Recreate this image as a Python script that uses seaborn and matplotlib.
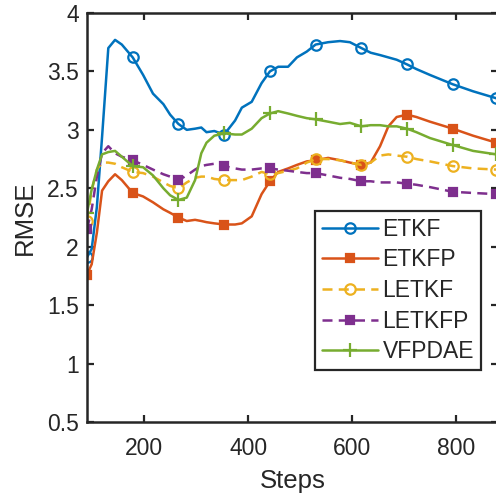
import matplotlib
matplotlib.use("Agg")
import matplotlib.pyplot as plt
import seaborn as sns

# assimilation steps (x) and RMSE of each method
steps = [90, 99, 109, 119, 131, 144, 157, 178, 198, 217, 237, 250, 266, 282,
         298, 310, 320, 335, 354, 375, 388, 407, 426, 442, 458, 477, 494, 513,
         530, 554, 577, 596, 618, 636, 654, 670, 686, 706, 724, 750, 772, 794,
         833, 878]

etkf = [1.91, 1.98, 2.34, 2.94, 3.70, 3.77, 3.73, 3.62, 3.47, 3.31, 3.22, 3.13,
        3.05, 3.00, 3.01, 3.02, 2.98, 2.99, 2.96, 3.08, 3.19, 3.24, 3.40, 3.50,
        3.54, 3.54, 3.62, 3.67, 3.73, 3.75, 3.76, 3.75, 3.70, 3.66, 3.64, 3.62,
        3.60, 3.56, 3.52, 3.47, 3.43, 3.39, 3.33, 3.27]

etkfp = [1.76, 1.85, 2.12, 2.48, 2.56, 2.62, 2.57, 2.46, 2.43, 2.38, 2.32, 2.29,
         2.25, 2.22, 2.23, 2.22, 2.21, 2.20, 2.19, 2.19, 2.20, 2.26, 2.45, 2.56,
         2.64, 2.67, 2.70, 2.73, 2.74, 2.76, 2.74, 2.72, 2.70, 2.72, 2.86, 3.03,
         3.11, 3.13, 3.11, 3.07, 3.04, 3.01, 2.95, 2.89]

letkf = [2.22, 2.48, 2.66, 2.72, 2.72, 2.71, 2.68, 2.64, 2.63, 2.60, 2.55, 2.52,
         2.50, 2.55, 2.59, 2.60, 2.60, 2.58, 2.57, 2.57, 2.57, 2.60, 2.64, 2.62,
         2.63, 2.65, 2.67, 2.72, 2.75, 2.75, 2.74, 2.72, 2.70, 2.72, 2.78, 2.79,
         2.78, 2.77, 2.75, 2.73, 2.71, 2.69, 2.67, 2.66]

letkfp = [2.15, 2.32, 2.60, 2.80, 2.86, 2.80, 2.77, 2.74, 2.70, 2.66, 2.62, 2.60,
          2.57, 2.61, 2.66, 2.69, 2.70, 2.71, 2.69, 2.67, 2.66, 2.66, 2.67, 2.67,
          2.66, 2.65, 2.64, 2.63, 2.63, 2.61, 2.59, 2.58, 2.56, 2.56, 2.55, 2.55,
          2.55, 2.54, 2.53, 2.51, 2.49, 2.47, 2.46, 2.45]

vfpdae = [2.29, 2.49, 2.66, 2.79, 2.81, 2.82, 2.77, 2.69, 2.68, 2.61, 2.50, 2.44,
          2.40, 2.42, 2.57, 2.80, 2.89, 2.95, 2.97, 2.96, 2.96, 3.01, 3.10, 3.14,
          3.16, 3.14, 3.12, 3.10, 3.09, 3.07, 3.05, 3.06, 3.03, 3.04, 3.04, 3.03,
          3.03, 3.01, 2.98, 2.93, 2.90, 2.87, 2.82, 2.79]

marker_steps = [90, 178, 266, 354, 442, 530, 618, 706, 794, 878]

names = ["ETKF", "ETKFP", "LETKF", "LETKFP", "VFPDAE"]
series = [etkf, etkfp, letkf, letkfp, vfpdae]
colors = ["#0072BD", "#D95319", "#EDB120", "#7E2F8E", "#77AC30"]
markers = ["o", "s", "o", "s", "+"]
styles = ["-", "-", (0, (4, 2.5)), (0, (4, 2.5)), "-"]

sns.set_theme(style="white")
plt.rcParams["font.family"] = ["Liberation Sans", "DejaVu Sans"]

fig = plt.figure(figsize=(4.96, 5.04), dpi=100)
ax = fig.add_axes([87 / 496, 82 / 504, 411 / 496, 409 / 504])

mark_idx = [steps.index(s) for s in marker_steps]
for name, vals, c, m, ls in zip(names, series, colors, markers, styles):
    face = c if m == "s" else "none"
    size = 6 if m == "s" else (10 if m == "+" else 7.5)
    sns.lineplot(x=steps, y=vals, ax=ax, color=c, lw=1.8, linestyle=ls,
                 marker=m, markevery=mark_idx, markersize=size,
                 markerfacecolor=face, markeredgecolor=c, markeredgewidth=1.6,
                 label=name, legend=False)

ax.set_xlim(90, 881)
ax.set_ylim(0.5, 4)
ax.set_xticks([200, 400, 600, 800])
ax.set_yticks([0.5, 1, 1.5, 2, 2.5, 3, 3.5, 4])
ax.set_yticklabels(["0.5", "1", "1.5", "2", "2.5", "3", "3.5", "4"])
ax.tick_params(direction="in", length=5, width=1.6, colors="#262626",
               labelsize=16.5, top=True, right=True, bottom=True, left=True)
ax.tick_params(axis="x", pad=11)
ax.tick_params(axis="y", pad=6)
for sp in ax.spines.values():
    sp.set_color("#262626")
    sp.set_linewidth(1.8)
ax.set_xlabel("Steps", fontsize=18.5, color="#262626", labelpad=6)
ax.set_ylabel("RMSE", fontsize=18.5, color="#262626", labelpad=7)

handles, labels = ax.get_legend_handles_labels()
leg = ax.legend(handles, labels, loc="upper left",
                bbox_to_anchor=(315 / 496, 1 - 211 / 504),
                bbox_transform=fig.transFigure, fontsize=16.5,
                frameon=True, fancybox=False, framealpha=1,
                edgecolor="#262626", borderpad=0.3, labelspacing=0.33,
                handlelength=2.45, handletextpad=0.2, borderaxespad=0)
leg.get_frame().set_linewidth(1.6)

fig.savefig("out.png", dpi=100)
